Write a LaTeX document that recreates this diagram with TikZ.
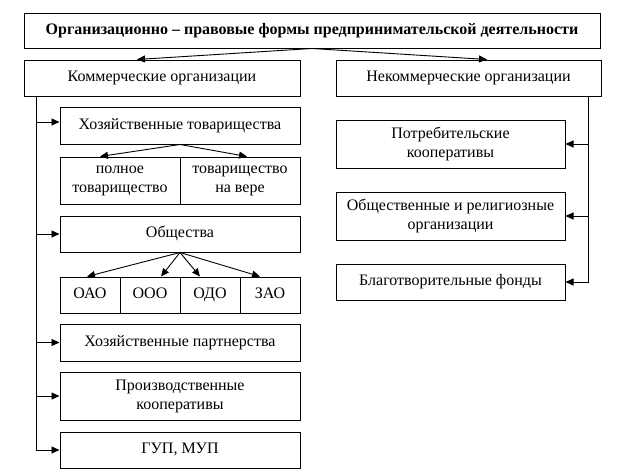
\documentclass[tikz,border=0pt]{standalone}
\usepackage{fontspec}
\setmainfont{Liberation Serif}
\usetikzlibrary{arrows.meta}
\tikzset{
  box/.style={draw, line width=1pt, rectangle, inner sep=0pt, align=center,
    font=\fontsize{16}{19}\selectfont},
  one/.style={text height=11pt, text depth=3.5pt},
  arr/.style={line width=0.9pt, -{Triangle[length=8pt,width=7pt]}},
  ln/.style={line width=0.9pt}
}
\begin{document}
\begin{tikzpicture}[x=1pt,y=-1pt]
\useasboundingbox (0,0) rectangle (624,471);
% boxes
\node[box, one, minimum width=576pt, minimum height=35pt, font=\fontsize{16}{19}\selectfont\bfseries] (top) at (312,30.5) {Организационно – правовые формы предпринимательской деятельности};
\node[box, one, minimum width=276pt, minimum height=36pt] (kom) at (162,78) {Коммерческие организации};
\node[box, one, minimum width=265pt, minimum height=36pt] (nekom) at (468.5,78) {Некоммерческие организации};
\node[box, one, minimum width=240pt, minimum height=37pt] (xt) at (180,125.5) {Хозяйственные товарищества};
\node[box, minimum width=120pt, minimum height=47pt] (pt) at (120,180.5) {полное\\товарищество};
\node[box, minimum width=120pt, minimum height=47pt] (tv) at (240,180.5) {товарищество\\на вере};
\node[box, one, minimum width=240pt, minimum height=36pt] (ob) at (180,234) {Общества};
\node[box, one, minimum width=60pt, minimum height=36pt] (oao) at (90,295) {ОАО};
\node[box, one, minimum width=60pt, minimum height=36pt] (ooo) at (150,295) {ООО};
\node[box, one, minimum width=60pt, minimum height=36pt] (odo) at (210,295) {ОДО};
\node[box, one, minimum width=60pt, minimum height=36pt] (zao) at (270,295) {ЗАО};
\node[box, one, minimum width=240pt, minimum height=37pt] (hp) at (180,342.5) {Хозяйственные партнерства};
\node[box, minimum width=240pt, minimum height=48pt] (pk) at (180,396) {Производственные\\кооперативы};
\node[box, one, minimum width=240pt, minimum height=36pt] (gup) at (180,450) {ГУП, МУП};
\node[box, minimum width=229pt, minimum height=48pt] (potr) at (450.5,144) {Потребительские\\кооперативы};
\node[box, minimum width=229pt, minimum height=48pt] (obrel) at (450.5,216) {Общественные и религиозные\\организации};
\node[box, one, minimum width=229pt, minimum height=36pt] (blag) at (450.5,282) {Благотворительные фонды};
% top arrows
\draw[arr] (top.south) -- ([xshift=-25pt]kom.north);
\draw[arr] (top.south) -- ([xshift=18.5pt]nekom.north);
% left trunk
\coordinate (kt) at (36,96);
\draw[ln] (kt) -- (kt |- gup.west);
\draw[arr] (kt |- 0,122) -- (xt.west |- 0,122);
\draw[arr] (kt) |- (ob.west);
\draw[arr] (kt) |- (hp.west);
\draw[arr] (kt) |- (pk.west);
\draw[arr] (kt) |- (gup.west);
% xt arrows
\draw[arr] (xt.south) -- ([xshift=-20pt]pt.north);
\draw[arr] (xt.south) -- ([xshift=7pt]tv.north);
% ob arrows
\draw[arr] (ob.south) -- ([xshift=-3pt]oao.north);
\draw[arr] (ob.south) -- ([xshift=11pt]ooo.north);
\draw[arr] (ob.south) -- ([xshift=-10pt]odo.north);
\draw[arr] (ob.south) -- ([xshift=-10pt]zao.north);
% right trunk
\coordinate (nt) at (588,96);
\draw[ln] (nt) -- (nt |- blag.east);
\draw[arr] (nt) |- (potr.east);
\draw[arr] (nt) |- (obrel.east);
\draw[arr] (nt) |- (blag.east);
\end{tikzpicture}
\end{document}
